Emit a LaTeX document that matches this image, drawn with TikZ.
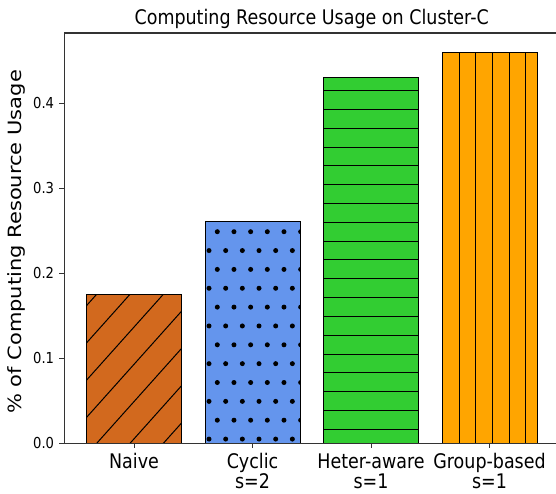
\documentclass[tikz,border=0pt]{standalone}
\usepackage{fontspec}
\usepackage{graphicx}
\setmainfont{DejaVu Sans}
\definecolor{cchoc}{HTML}{D2691E}
\definecolor{ccorn}{HTML}{6495ED}
\definecolor{clime}{HTML}{32CD32}
\definecolor{corng}{HTML}{FFA500}
\definecolor{spinegray}{HTML}{333333}
\newcommand{\hsq}[1]{\scalebox{0.87}[1]{#1}}
\newcommand{\twoline}[2]{\vtop{\halign{\hfil##\hfil\cr #1\cr #2\cr}}}
\tikzset{
  spine/.style={draw=spinegray, line width=1.1pt},
  tickmark/.style={draw=spinegray, line width=1.0pt},
  hatchline/.style={draw=black, line width=1.0pt},
  barbox/.style={draw=black, line width=1.0pt},
  ylab/.style={inner sep=0pt, anchor=east, font=\fontsize{15.1}{17}\selectfont},
  xlab/.style={inner sep=0pt, anchor=base, font=\fontsize{20.1}{20}\selectfont},
}
\begin{document}
\begin{tikzpicture}[x=1pt,y=-1pt]
\useasboundingbox (0,0) rectangle (556,493);
\fill[white] (0,0) rectangle (556,493);
% --- Naive bar ---
\fill[cchoc] (86.6,294.5) rectangle (181.4,443.3);
\begin{scope}
  \clip (86.6,294.5) rectangle (181.4,443.3);
  \foreach \k in {-5,...,3}
    \draw[hatchline] ({96.7+33.33*\k},443.3) -- ++(150,-167.7);
\end{scope}
\draw[barbox] (86.6,294.5) rectangle (181.4,443.3);
% --- Cyclic bar ---
\fill[ccorn] (205,221) rectangle (300,443.3);
\begin{scope}
  \clip (205,221) rectangle (300,443.3);
  \foreach \j in {0,...,11}{
    \pgfmathsetmacro{\yy}{231.7+18.85*\j}
    \pgfmathsetmacro{\xo}{isodd(\j) ? 209 : 217.3}
    \foreach \i in {0,...,5}
      \fill[black] ({\xo+16.67*\i},\yy) circle (2.5);
  }
\end{scope}
\draw[barbox] (205,221) rectangle (300,443.3);
% --- Heter-aware bar ---
\fill[clime] (323.6,77.3) rectangle (418.4,443.3);
\begin{scope}
  \clip (323.6,77.3) rectangle (418.4,443.3);
  \foreach \k in {0,...,18}
    \draw[hatchline] (323.6,{90.7+18.81*\k}) -- (418.4,{90.7+18.81*\k});
\end{scope}
\draw[barbox] (323.6,77.3) rectangle (418.4,443.3);
% --- Group-based bar ---
\fill[corng] (442.3,52.7) rectangle (537.4,443.3);
\begin{scope}
  \clip (442.3,52.7) rectangle (537.4,443.3);
  \foreach \k in {0,...,4}
    \draw[hatchline] ({459+16.67*\k},52.7) -- ({459+16.67*\k},443.3);
\end{scope}
\draw[barbox] (442.3,52.7) rectangle (537.4,443.3);
% --- spines ---
\draw[spine] (64.3,33) -- (64.3,443.3) -- (556,443.3);
\draw[spine] (64.3,33) -- (556,33);
% --- y ticks ---
\foreach \v/\yy in {0.0/443.3,0.1/358.3,0.2/273.3,0.3/188.3,0.4/103.3}{
  \draw[tickmark] (64.3,\yy) -- (59.3,\yy);
  \node[ylab] (yt\v) at (54.3,\yy) {\hsq{\v}};
}
% --- x ticks ---
\foreach \xx in {134,252.5,371,489.5}
  \draw[tickmark] (\xx,443.3) -- (\xx,447.8);
\node[xlab] (xl1) at (134,468) {\hsq{Naive}};
\node[xlab] (xl2) at (252.5,468) {\hsq{\twoline{Cyclic}{s=2}}};
\node[xlab] (xl3) at (371,468) {\hsq{\twoline{Heter-aware}{s=1}}};
\node[xlab] (xl4) at (489.5,468) {\hsq{\twoline{Group-based}{s=1}}};
% --- title and axis label ---
\node[inner sep=0pt, anchor=base, font=\fontsize{20.1}{24}\selectfont] (title) at (311.7,24) {\hsq{Computing Resource Usage on Cluster-C}};
\node[inner sep=0pt, rotate=90, font=\fontsize{21}{24}\selectfont] (ylabel) at (16.5,242) {\scalebox{1}[0.87]{\% of Computing Resource Usage}};
\end{tikzpicture}
\end{document}
